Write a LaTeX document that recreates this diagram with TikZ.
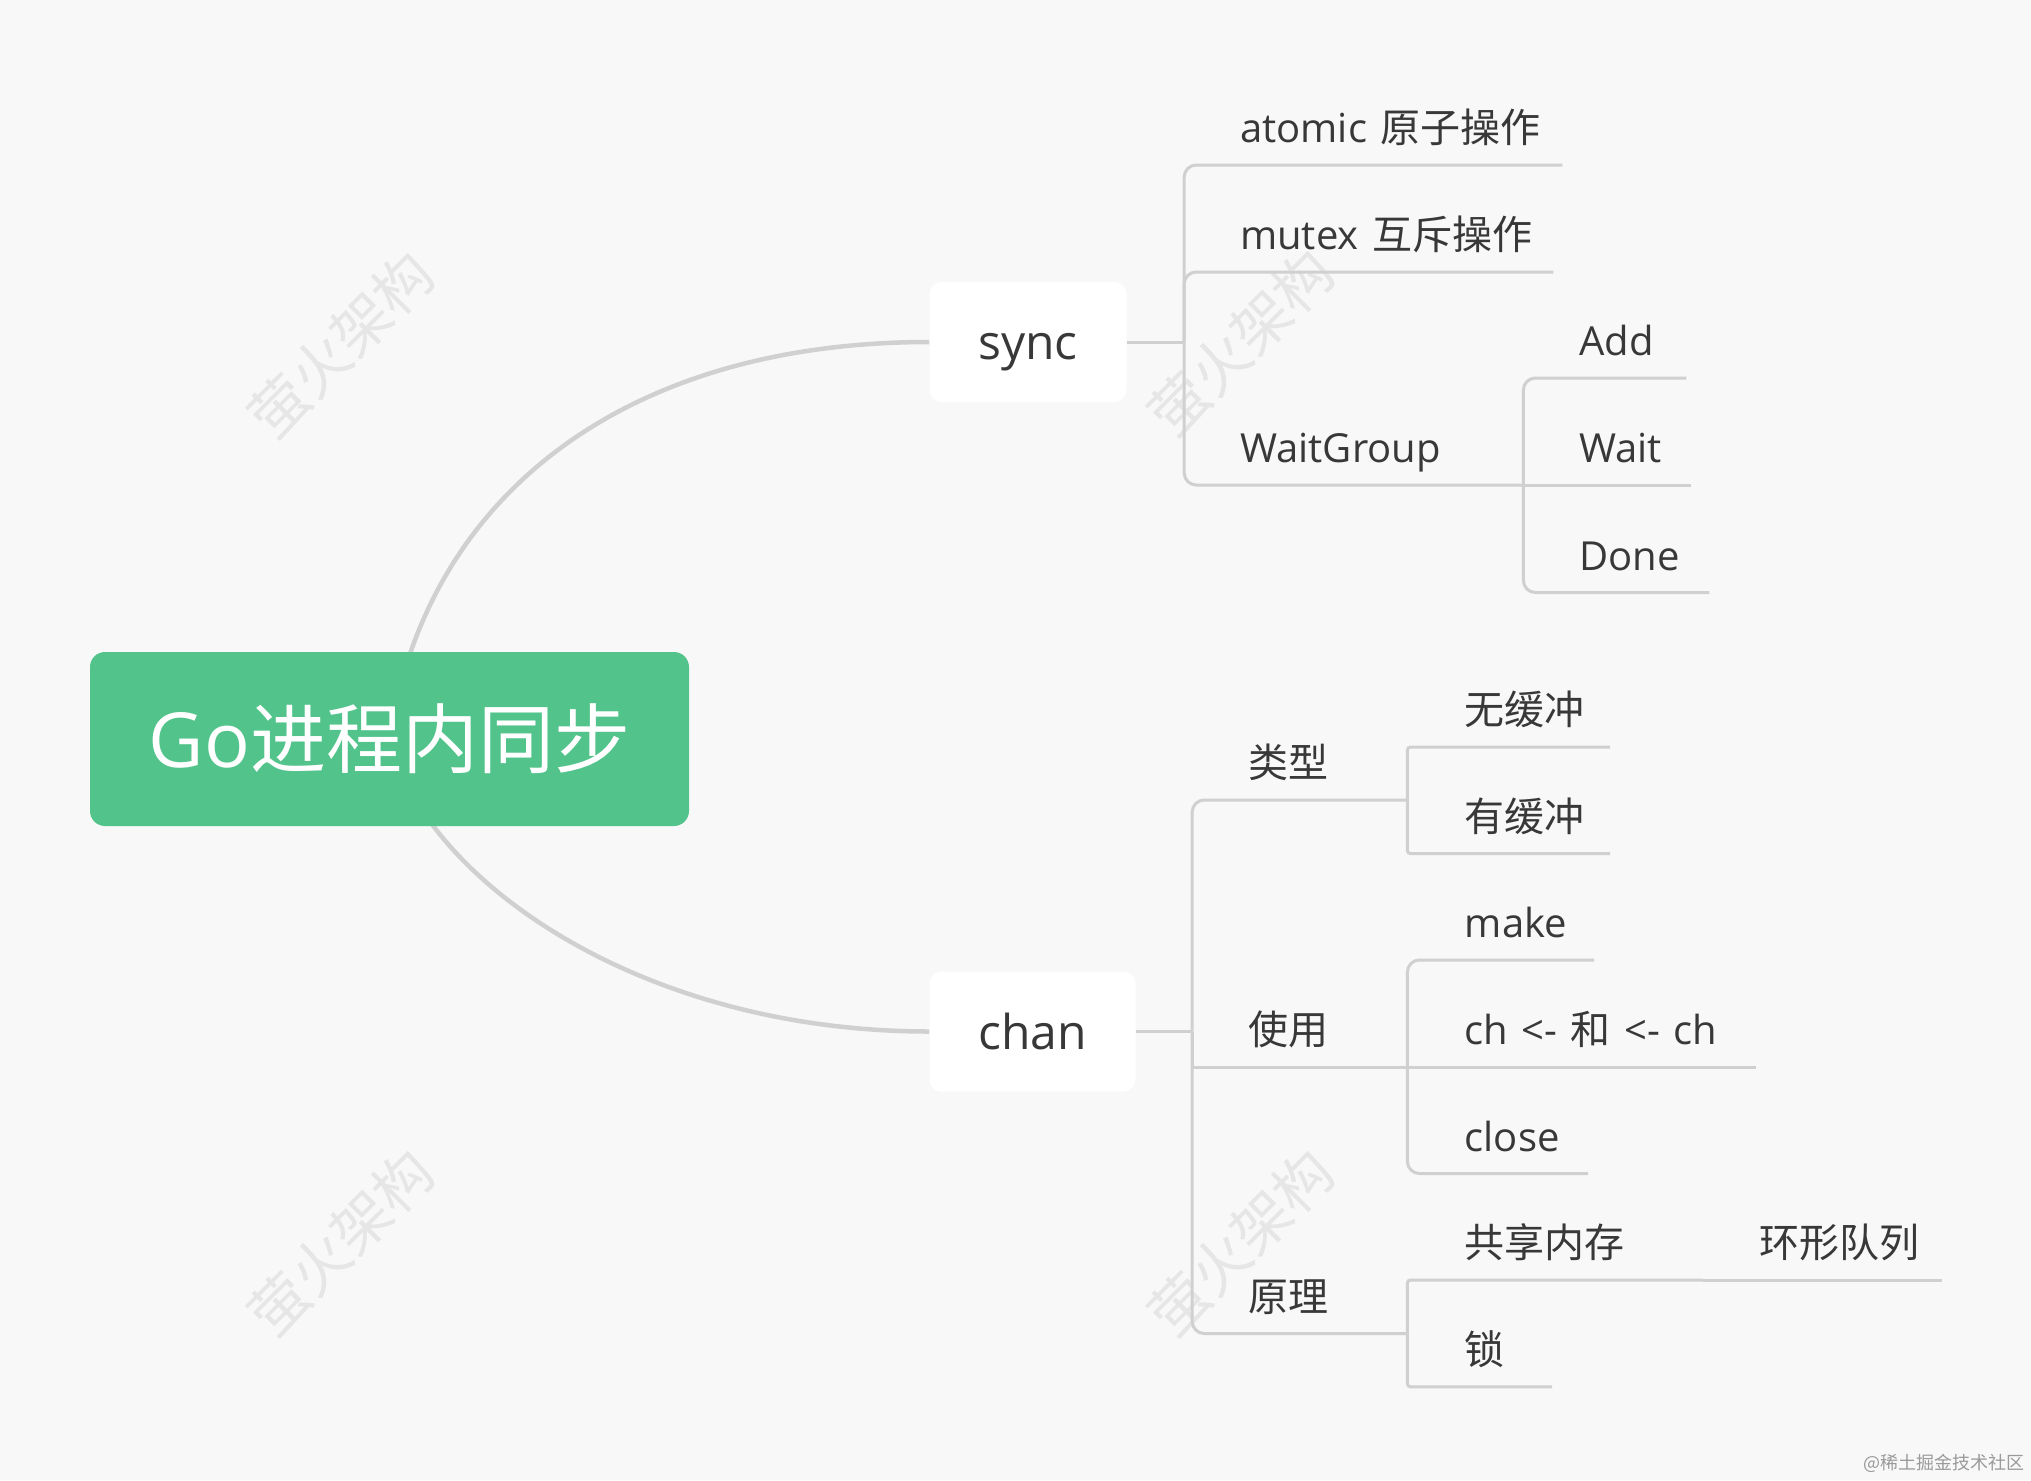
\documentclass[tikz,border=0pt]{standalone}
\usepackage{fontspec}
\setmainfont{Open Sans}
\newfontfamily\cjk{Noto Sans CJK SC}
\definecolor{bgc}{HTML}{F8F8F8}
\definecolor{rootc}{HTML}{52C48B}
\definecolor{linec}{HTML}{D0D0D0}
\definecolor{txtc}{HTML}{383838}
\definecolor{wmc}{HTML}{E6E6E6}
\definecolor{credc}{HTML}{9A9A9A}
\pgfdeclarelayer{bglayer}
\pgfdeclarelayer{linelayer}
\pgfsetlayers{bglayer,linelayer,main}
\begin{document}
\begin{tikzpicture}[x=1pt,y=-1pt,
  rootbox/.style={fill=rootc, rounded corners=15pt, minimum width=599pt, minimum height=174pt, inner sep=0pt, text=white, font=\fontsize{76}{90}\selectfont},
  lvlone/.style={fill=white, rounded corners=12pt, minimum height=120pt, inner sep=0pt, text height=35pt, text depth=0pt, text=txtc, font=\fontsize{48}{58}\selectfont},
  lbl/.style={anchor=south west, inner sep=0pt, text height=30pt, text depth=22pt, align=left, text=txtc, font=\fontsize{40}{48}\selectfont},
  br/.style={draw=linec, line width=3pt},
  rc/.style={rounded corners=12pt},
  rcs/.style={rounded corners=3pt},
  curve/.style={draw=linec, line width=4.5pt},
  wm/.style={text=wmc, rotate=45, font=\cjk\fontsize{58}{64}\selectfont, inner sep=0pt}
]
\useasboundingbox (0,0) rectangle (2031,1480);
\begin{pgfonlayer}{bglayer}
  \fill[bgc] (0,0) rectangle (2031,1480);
  \node[wm] (wm1) at (341,345) {萤火架构};
  \node[wm] (wm2) at (1241,343) {萤火架构};
  \node[wm] (wm3) at (341,1243) {萤火架构};
  \node[wm] (wm4) at (1241,1243) {萤火架构};
\end{pgfonlayer}

% nodes
\node[rootbox] (root) at (389.5,739) {Go{\cjk 进程内同步}};
\node[lvlone, minimum width=197pt] (sync) at (1028,342) {sync};
\node[lvlone, minimum width=206pt] (chan) at (1032.5,1031.5) {chan};

% sync children
\node[lbl, text width=322pt] (atomic) at (1240,165) {atomic {\cjk 原子操作}};
\node[lbl, text width=313pt] (mutex) at (1240,272) {mutex {\cjk 互斥操作}};
\node[lbl, text width=283pt] (wg) at (1240,485) {WaitGroup};
\node[lbl, text width=107pt] (add) at (1579,378) {Add};
\node[lbl, text width=112pt] (wait) at (1579,485) {Wait};
\node[lbl, text width=130pt] (done) at (1579,592.5) {Done};

% chan children
\node[lbl, text width=159pt, font=\cjk\fontsize{40}{48}\selectfont] (leixing) at (1248,800) {类型};
\node[lbl, text width=159pt, font=\cjk\fontsize{40}{48}\selectfont] (shiyong) at (1248,1067) {使用};
\node[lbl, text width=159pt, font=\cjk\fontsize{40}{48}\selectfont] (yuanli) at (1248,1333.5) {原理};
\node[lbl, text width=145pt, font=\cjk\fontsize{40}{48}\selectfont] (wuhc) at (1464.6,747) {无缓冲};
\node[lbl, text width=145pt, font=\cjk\fontsize{40}{48}\selectfont] (youhc) at (1464.6,853.6) {有缓冲};
\node[lbl, text width=129pt] (make) at (1464.6,960) {make};
\node[lbl, text width=291pt] (chop) at (1464.6,1067) {ch <- {\cjk 和} <- ch};
\node[lbl, text width=123pt] (close) at (1464.6,1173.5) {close};
\node[lbl, text width=238pt, font=\cjk\fontsize{40}{48}\selectfont] (gxnc) at (1464.6,1280) {共享内存};
\node[lbl, text width=87pt, font=\cjk\fontsize{40}{48}\selectfont] (suo) at (1464.6,1386.8) {锁};
\node[lbl, text width=182.5pt, font=\cjk\fontsize{40}{48}\selectfont] (hxdl) at (1759.5,1280) {环形队列};

% credit
\node[anchor=east, inner sep=0pt, text=credc, font=\cjk\fontsize{18}{20}\selectfont] (credit) at (2025,1463) {@稀土掘金技术社区};

% connectors
\begin{pgfonlayer}{linelayer}
  \draw[curve] (root.center) .. controls (425,500) and (620,342) .. (sync.west);
  \draw[curve] (root.center) .. controls (425,880) and (640,1031.5) .. (chan.west);

  \path (sync.east) ++(57.5,0) coordinate (sj);
  \draw[br] (sync.east) -- (sj);
  \draw[br,rc] (sj) |- (atomic.south east);
  \draw[br,rc] (sj) |- (mutex.south east);
  \draw[br,rc] (sj) |- (wg.south east);
  \draw[br,rc] (wg.south east) |- (add.south east);
  \draw[br] (wg.south east) -- (wait.south east);
  \draw[br,rc] (wg.south east) |- (done.south east);

  \path (chan.east) ++(56.5,0) coordinate (cj);
  \draw[br] (chan.east) -- (cj);
  \draw[br,rc] (cj) |- (leixing.south east);
  \draw[br] (cj) |- (shiyong.south east);
  \draw[br,rc] (cj) |- (yuanli.south east);
  \draw[br,rcs] (leixing.south east) |- (wuhc.south east);
  \draw[br,rcs] (leixing.south east) |- (youhc.south east);
  \draw[br,rc] (shiyong.south east) |- (make.south east);
  \draw[br] (shiyong.south east) -- (chop.south east);
  \draw[br,rc] (shiyong.south east) |- (close.south east);
  \draw[br,rcs] (yuanli.south east) |- (gxnc.south east);
  \draw[br,rcs] (yuanli.south east) |- (suo.south east);
  \draw[br] (gxnc.south east) -- (hxdl.south east);
\end{pgfonlayer}
\end{tikzpicture}
\end{document}
